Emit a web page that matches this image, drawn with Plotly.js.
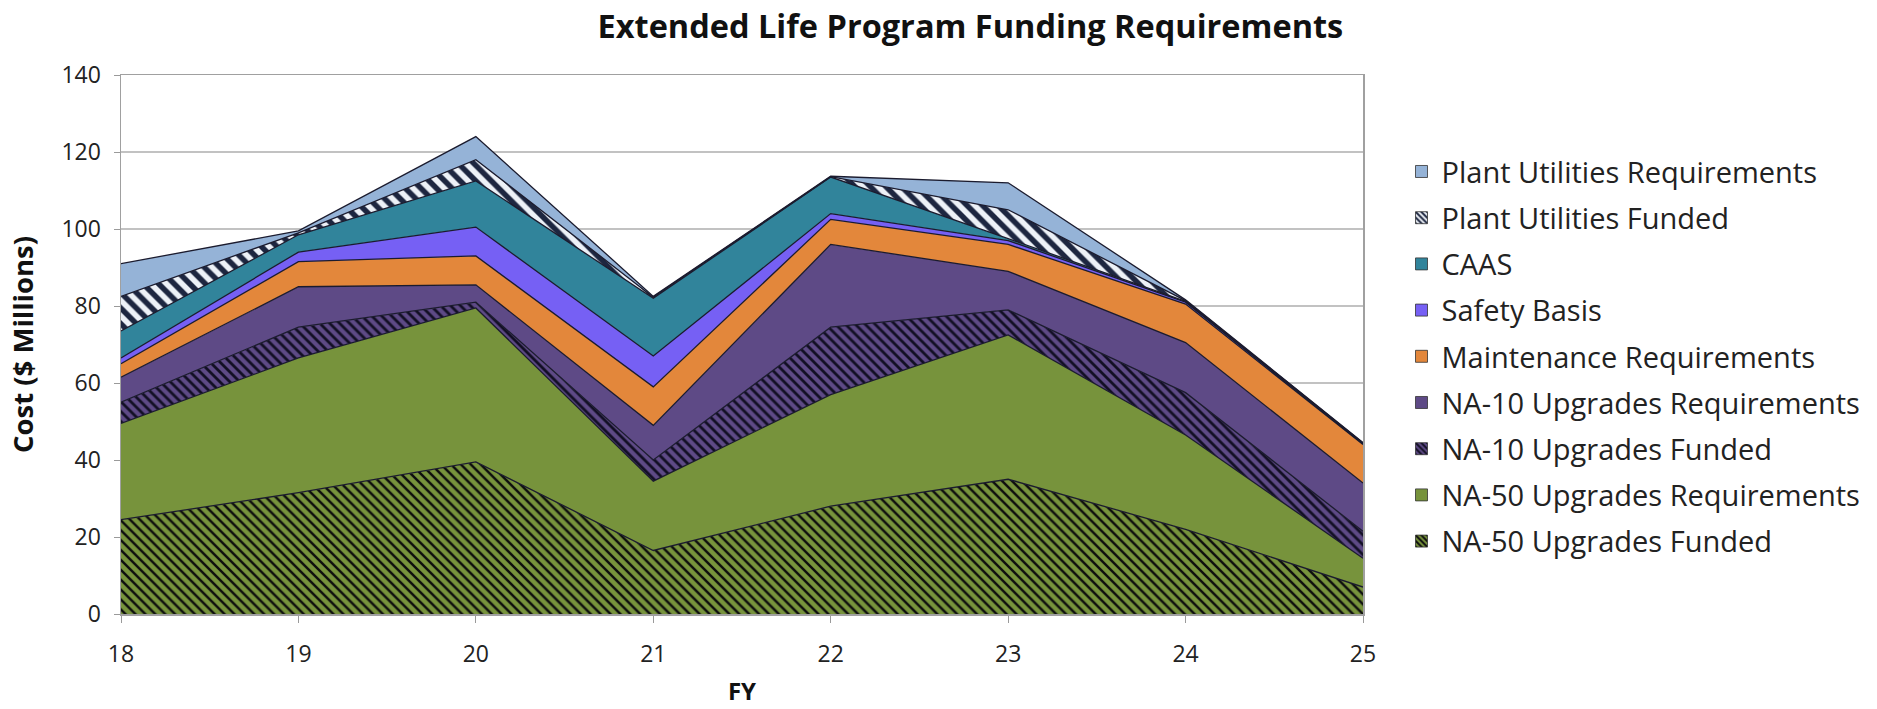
<!DOCTYPE html>
<html>
<head>
<meta charset="utf-8">
<script src="https://cdn.plot.ly/plotly-3.0.1.min.js"></script>
<style>html,body{margin:0;padding:0;background:#fff;}#chart{width:1877px;height:709px;}</style>
</head>
<body>
<div id="chart"></div>
<script>
// ---- data ($ millions) ----
const years = [18, 19, 20, 21, 22, 23, 24, 25];
const yearLabels = ['18', '19', '20', '21', '22', '23', '24', '25'];

const na50Funded      = [24.5, 31.5, 39.5, 16.5, 28.0, 35.0, 22.0, 7.0];
const na50Req         = [25.0, 35.0, 40.0, 18.0, 29.0, 37.5, 24.5, 7.5];
const na10Funded      = [5.5, 8.0, 1.5, 5.5, 17.5, 6.5, 11.0, 7.0];
const na10Req         = [6.5, 10.5, 4.5, 9.0, 21.5, 10.0, 13.0, 12.5];
const maintenanceReq  = [3.5, 6.5, 7.5, 10.0, 6.5, 7.0, 10.0, 10.0];
const safetyBasis     = [1.5, 2.5, 7.5, 8.0, 1.5, 1.0, 0.5, 0.2];
const caas            = [7.0, 4.5, 12.0, 15.0, 9.5, 0.5, 0.2, 0.1];
const plantUtilFunded = [9.0, 0.5, 5.5, 0.3, 0.1, 7.5, 0.2, 0.1];
const plantUtilReq    = [8.5, 0.5, 6.0, 0.2, 0.1, 7.0, 0.2, 0.1];

const seriesNames = [
  'NA-50 Upgrades Funded', 'NA-50 Upgrades Requirements',
  'NA-10 Upgrades Funded', 'NA-10 Upgrades Requirements',
  'Maintenance Requirements', 'Safety Basis', 'CAAS',
  'Plant Utilities Funded', 'Plant Utilities Requirements'
];
const seriesValues = [na50Funded, na50Req, na10Funded, na10Req, maintenanceReq,
  safetyBasis, caas, plantUtilFunded, plantUtilReq];

// ---- styles ----
const styles = [
  {color: '#77933C', pattern: {shape: '\\', bgcolor: '#77933C', fgcolor: '#0d0d0d', size: 7, solidity: 0.35}},
  {color: '#77933C'},
  {color: '#5E4A86', pattern: {shape: '\\', bgcolor: '#5E4A86', fgcolor: '#120f24', size: 7, solidity: 0.4}},
  {color: '#5E4A86'},
  {color: '#E3873B'},
  {color: '#7660F4'},
  {color: '#31849B'},
  {color: '#E9EEF6', pattern: {shape: '\\', bgcolor: '#EDF1F7', fgcolor: '#1D2640', size: 11, solidity: 0.5}},
  {color: '#95B3D7'}
];

const FONT = 'Open Sans, Lato, DejaVu Sans, sans-serif';
const outline = '#1b1b2e';

const traces = [];
seriesValues.forEach((vals, i) => {
  const st = styles[i];
  const t = {
    type: 'scatter', mode: 'lines', x: years, y: vals, name: seriesNames[i],
    stackgroup: 'one', line: {color: outline, width: 1.3},
    fillcolor: st.color, showlegend: false, hoverinfo: 'x+y+name'
  };
  if (st.pattern) t.fillpattern = Object.assign({fillmode: 'replace', fgopacity: 1}, st.pattern);
  traces.push(t);
});
// legend entries (square swatches), top to bottom as in the reference
for (let i = seriesValues.length - 1; i >= 0; i--) {
  const st = styles[i];
  const m = {color: st.color, line: {color: '#333', width: 0.8}};
  if (st.pattern) m.pattern = {shape: st.pattern.shape, bgcolor: st.pattern.bgcolor, fgcolor: st.pattern.fgcolor, size: 5, solidity: 0.5, fillmode: 'replace'};
  traces.push({type: 'bar', x: [null], y: [null], name: seriesNames[i], marker: m,
    legendgroup: 'g' + i, showlegend: true, hoverinfo: 'skip'});
}

const layout = {
  width: 1877, height: 709,
  margin: {l: 121, r: 511, t: 75, b: 95},
  paper_bgcolor: '#fff', plot_bgcolor: '#fff',
  font: {family: FONT, color: '#222'},
  title: {text: 'Extended Life Program Funding Requirements', xref: 'container', x: 0.517,
    yref: 'container', y: 0.963, yanchor: 'middle',
    font: {family: FONT, size: 32.5, color: '#111', weight: 'bold'}},
  xaxis: {range: [18, 25], tickvals: years, ticktext: yearLabels, ticks: 'outside', ticklen: 7,
    tickcolor: '#9a9a9a', showgrid: false, showline: true, linecolor: '#a0a0a0', linewidth: 1.5,
    mirror: true, zeroline: false, tickfont: {size: 23, color: '#222'}, ticklabelstandoff: 12,
    title: {text: 'FY', font: {size: 24, weight: 'bold', color: '#111'}, standoff: 15}},
  yaxis: {range: [0, 140], dtick: 20, ticks: 'outside', ticklen: 6, tickcolor: '#9a9a9a',
    showgrid: true, gridcolor: '#c2c2c2', gridwidth: 1.5, showline: true, linecolor: '#a0a0a0',
    linewidth: 1.5, mirror: true, zeroline: false, tickfont: {size: 23, color: '#222'},
    ticklabelstandoff: 8,
    title: {text: 'Cost ($ Millions)', font: {size: 27.5, weight: 'bold', color: '#111'}, standoff: 20}},
  legend: {x: 1.031, xanchor: 'left', y: 0.868, yanchor: 'top', traceorder: 'grouped',
    tracegroupgap: 5.5, font: {size: 29, color: '#222'}, bgcolor: 'rgba(0,0,0,0)'},
  showlegend: true
};

Plotly.newPlot('chart', traces, layout, {displayModeBar: false, staticPlot: true});
</script>
</body>
</html>
